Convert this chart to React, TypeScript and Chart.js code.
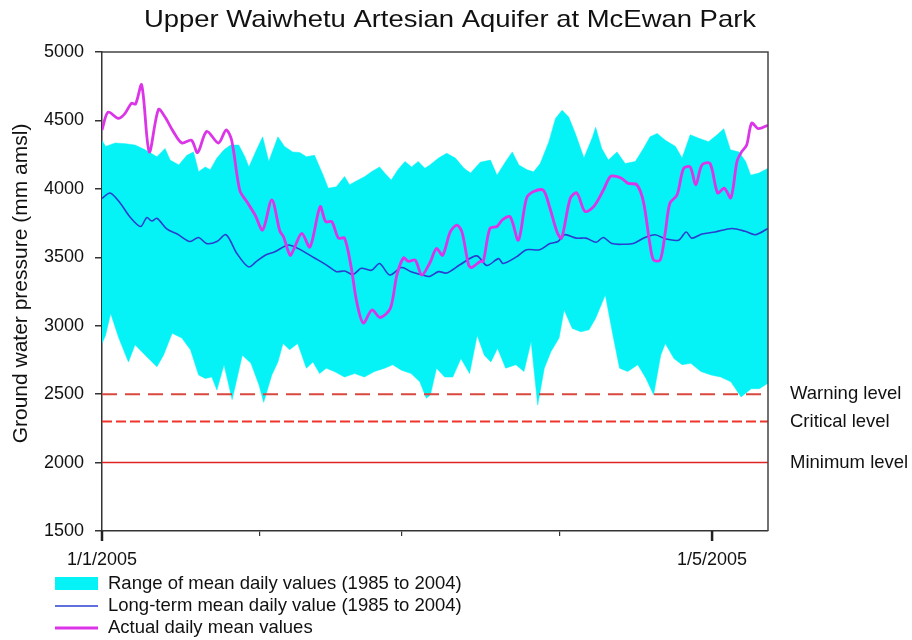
import React, { useEffect, useRef } from 'react';
import { Chart, registerables } from 'chart.js';

Chart.register(...registerables);

const FONT = "'Liberation Sans', Arial, Helvetica, sans-serif";

const chartTitle = 'Upper Waiwhetu Artesian Aquifer at McEwan Park';
const yAxisTitle = 'Ground water pressure (mm amsl)';
const xTickDays = [0, 31, 59, 90, 120];
const xTickLabels = ['1/1/2005', '', '', '', '1/5/2005'];
const xMajorDays = [0, 120];
const yTickValues = [1500, 2000, 2500, 3000, 3500, 4000, 4500, 5000];
const levelNames = ['Warning level', 'Critical level', 'Minimum level'];
const levelValues = [2500, 2300, 2000];
const legendLabels = [
  'Range of mean daily values (1985 to 2004)',
  'Long-term mean daily value (1985 to 2004)',
  'Actual daily mean values',
];

// Actual daily mean values (day since 1/1/2005, mm amsl)
const actualDays = [0, 1.2, 3.2, 4.5, 5.8, 6.6, 7.8, 9.3, 11.1, 12.4, 14, 15.7, 17.6, 18.8, 20.6, 22.9, 24.4, 25.5, 27.1, 28.5, 30.1, 31.6, 33.4, 35, 35.7, 37, 37.8, 39.3, 40.9, 42.9, 44, 45.2, 46.5, 47.7, 49, 50.1, 51.4, 53.1, 54.7, 56.7, 58, 59.3, 60.3, 61.6, 62.9, 64.5, 65.8, 67, 68.5, 69.8, 70.8, 72.1, 72.7, 74.4, 75, 76.3, 77.7, 78.8, 80.3, 81.9, 83.5, 84.9, 86.8, 88.1, 89.5, 90.4, 92.1, 93.4, 95, 96.7, 98.6, 100, 101.3, 102.3, 103.5, 105.2, 106.5, 107.8, 108.5, 109.8, 110.8, 111.7, 113.1, 114.4, 115.7, 116.8, 118, 119.6, 121.1, 122.4, 123.7, 124.9, 125.8, 126.8, 127.8, 129.1, 131];
const actualValues = [4430, 4560, 4515, 4550, 4625, 4620, 4760, 4270, 4580, 4525, 4420, 4335, 4355, 4265, 4420, 4335, 4430, 4355, 3990, 3905, 3810, 3700, 3920, 3690, 3650, 3515, 3565, 3675, 3575, 3870, 3760, 3760, 3640, 3640, 3430, 3175, 3020, 3115, 3060, 3125, 3370, 3495, 3470, 3480, 3370, 3460, 3565, 3515, 3685, 3735, 3685, 3445, 3425, 3470, 3470, 3710, 3725, 3775, 3795, 3625, 3930, 3980, 3990, 3860, 3685, 3640, 3930, 3970, 3835, 3870, 3990, 4090, 4090, 4075, 4040, 4030, 3905, 3590, 3480, 3480, 3685, 3895, 3955, 4150, 4160, 4030, 4175, 4185, 3970, 4005, 3935, 4200, 4270, 4320, 4480, 4440, 4465];

// Long-term mean daily value
const meanDays = [0, 1.6, 3.6, 5.5, 7.6, 8.8, 9.8, 10.8, 12.8, 14.8, 17.3, 19, 20.6, 22.6, 24.4, 26.5, 28.8, 30.4, 32.1, 34, 36.6, 38.5, 41.8, 44.1, 46.1, 47.7, 49.4, 51, 53, 54.6, 56.6, 58.9, 60.8, 63.1, 64.4, 66.2, 67.8, 70.4, 73.7, 75.7, 78, 78.9, 81.6, 83.5, 86.1, 88.1, 89.7, 91, 93.3, 95.2, 97.2, 98.6, 100.3, 102.6, 104.5, 106.8, 108.8, 110.8, 113.4, 114.9, 116, 118, 120.6, 123.9, 126.5, 128.5, 131];
const meanValues = [3930, 3970, 3895, 3795, 3725, 3790, 3765, 3785, 3705, 3670, 3615, 3645, 3600, 3615, 3665, 3530, 3430, 3470, 3515, 3540, 3590, 3565, 3495, 3445, 3395, 3400, 3375, 3420, 3405, 3455, 3370, 3425, 3395, 3370, 3360, 3395, 3385, 3445, 3510, 3440, 3490, 3455, 3505, 3555, 3555, 3600, 3615, 3665, 3640, 3640, 3610, 3645, 3600, 3595, 3600, 3645, 3665, 3635, 3625, 3685, 3640, 3670, 3685, 3710, 3690, 3665, 3710];

// Range of mean daily values: upper edge
const upperDays = [0, 0.7, 2.6, 4.6, 6.5, 8.5, 10.8, 12.4, 13.4, 15.1, 16.7, 18, 19, 20.3, 21.3, 22.6, 24, 25.3, 26.9, 28.1, 28.9, 30.2, 31.6, 32.8, 34.6, 35.9, 37.5, 38.9, 40.2, 41.8, 43.5, 44.5, 46.1, 47.7, 48.7, 50.4, 51.7, 53, 54.6, 55.6, 56.9, 58.2, 59.6, 60.9, 62.2, 63.5, 64.5, 66.2, 67.8, 69.5, 71.2, 72.5, 74.4, 76.4, 77.7, 79.4, 80.7, 82, 83.6, 84.9, 86.2, 87.9, 89.2, 90.5, 91.8, 93.2, 94.8, 96.5, 97.1, 98.3, 99.6, 101.3, 102.9, 104.9, 106.5, 107.8, 109.2, 110.8, 112.8, 114.1, 115.7, 117.4, 119.3, 121, 122.3, 123.6, 125.3, 126.6, 127.6, 129.2, 131];
const upperValues = [4355, 4310, 4335, 4330, 4320, 4285, 4235, 4295, 4210, 4175, 4245, 4270, 4125, 4160, 4140, 4225, 4285, 4320, 4320, 4235, 4160, 4270, 4380, 4200, 4380, 4310, 4270, 4265, 4235, 4245, 4100, 4005, 4015, 4090, 4030, 4065, 4090, 4125, 4160, 4115, 4065, 4140, 4200, 4160, 4200, 4150, 4175, 4225, 4260, 4225, 4150, 4115, 4195, 4210, 4100, 4200, 4270, 4175, 4140, 4125, 4185, 4345, 4515, 4575, 4525, 4395, 4225, 4380, 4450, 4295, 4210, 4270, 4185, 4200, 4295, 4380, 4405, 4355, 4310, 4225, 4395, 4370, 4345, 4395, 4440, 4285, 4270, 4200, 4100, 4115, 4150];

// Range of mean daily values: lower edge
const lowerDays = [0, 0.7, 1.7, 3.3, 5.2, 6.5, 8.5, 10.8, 12.1, 13.8, 15.7, 17.4, 19, 20.3, 21.6, 22.6, 24, 25.6, 27.6, 29.3, 30.9, 31.8, 33.4, 34.6, 35.6, 36.9, 38.5, 40.2, 41.5, 42.8, 44.1, 45.7, 47.7, 49.7, 51.6, 53.6, 55.6, 57.2, 58.9, 60.8, 62.5, 63.8, 64.6, 65.8, 67.4, 69, 70.6, 72.3, 73.8, 75.2, 76.5, 77.8, 79.4, 81.4, 83, 84.4, 85.7, 87, 88.3, 89.9, 90.9, 92.5, 94.2, 95.8, 97.1, 99, 100.5, 101.8, 103.4, 105.4, 107, 108.5, 109.9, 110.8, 112.5, 114.1, 115.8, 117.8, 119.8, 121.7, 123.7, 125.7, 127.7, 129.3, 131];
const lowerValues = [2870, 2930, 3090, 2910, 2735, 2860, 2785, 2700, 2785, 2945, 2910, 2825, 2640, 2615, 2625, 2530, 2715, 2460, 2785, 2725, 2565, 2440, 2640, 2735, 2870, 2825, 2870, 2690, 2735, 2650, 2690, 2665, 2625, 2650, 2625, 2665, 2690, 2715, 2675, 2650, 2590, 2470, 2495, 2690, 2625, 2625, 2760, 2650, 2930, 2785, 2735, 2835, 2690, 2715, 2665, 2885, 2420, 2690, 2810, 2910, 3115, 2980, 2955, 2970, 3055, 3225, 2930, 2690, 2665, 2715, 2615, 2495, 2785, 2870, 2760, 2715, 2725, 2665, 2640, 2625, 2590, 2480, 2540, 2540, 2580];

const X_MAX = 131;

const CYAN = '#05f2f6';
const BLUE = '#2a3fcf';
const MAGENTA = '#dc35e8';
const levelColors = ['#d9483e', '#f0342c', '#e02424'];
const levelDashes = [[15, 8], [10, 4], []];
const levelWidths = [2, 2, 1.5];

const pts = (xs: number[], ys: number[]) => xs.map((x, i) => ({ x, y: ys[i] }));

const decorPlugin = {
  id: 'decor',
  afterDraw(chart: any) {
    const ctx = chart.ctx as CanvasRenderingContext2D;
    const a = chart.chartArea;
    const yScale = chart.scales.y;
    const xScale = chart.scales.x;
    ctx.save();
    // frame top and right
    ctx.strokeStyle = '#444';
    ctx.lineWidth = 1.5;
    ctx.beginPath();
    ctx.moveTo(a.left, a.top);
    ctx.lineTo(a.right, a.top);
    ctx.lineTo(a.right, a.bottom);
    ctx.stroke();

    // longer major x ticks
    ctx.strokeStyle = '#222';
    ctx.lineWidth = 2.5;
    xMajorDays.forEach((d) => {
      const x = xScale.getPixelForValue(d);
      ctx.beginPath();
      ctx.moveTo(x, a.bottom);
      ctx.lineTo(x, a.bottom + 10);
      ctx.stroke();
    });

    ctx.fillStyle = '#111';
    // title
    ctx.font = `24px ${FONT}`;
    ctx.textBaseline = 'alphabetic';
    ctx.textAlign = 'left';
    const tw = ctx.measureText(chartTitle).width;
    const targetW = 612;
    const sx = targetW / tw;
    ctx.save();
    ctx.translate(450 - targetW / 2, 27);
    ctx.scale(sx, 1);
    ctx.fillText(chartTitle, 0, 0);
    ctx.restore();

    // y-axis title
    ctx.save();
    ctx.font = `21px ${FONT}`;
    ctx.translate(21, (a.top + a.bottom) / 2 - 8);
    ctx.rotate(-Math.PI / 2);
    ctx.textAlign = 'center';
    ctx.textBaseline = 'middle';
    ctx.fillText(yAxisTitle, 0, 0);
    ctx.restore();

    // level labels
    ctx.font = `18.5px ${FONT}`;
    ctx.textAlign = 'left';
    ctx.textBaseline = 'middle';
    levelNames.forEach((name, i) => {
      const y = yScale.getPixelForValue(levelValues[i]);
      ctx.fillText(name, 790, y);
    });

    // legend
    const rowY = [583.5, 606, 628];
    ctx.fillStyle = CYAN;
    ctx.fillRect(55, rowY[0] - 6.5, 43, 13);
    ctx.strokeStyle = BLUE;
    ctx.lineWidth = 1.5;
    ctx.beginPath();
    ctx.moveTo(55, rowY[1]);
    ctx.lineTo(98, rowY[1]);
    ctx.stroke();
    ctx.strokeStyle = MAGENTA;
    ctx.lineWidth = 3;
    ctx.beginPath();
    ctx.moveTo(55, rowY[2]);
    ctx.lineTo(98, rowY[2]);
    ctx.stroke();
    ctx.fillStyle = '#111';
    legendLabels.forEach((t, i) => ctx.fillText(t, 108, rowY[i]));
    ctx.restore();
  },
};

export default function App() {
  const ref = useRef<HTMLCanvasElement | null>(null);
  useEffect(() => {
    document.body.style.margin = '0';
    const canvas = ref.current;
    if (!canvas) return;
    const levelDatasets = levelValues.map((v, i) => ({
      label: levelNames[i],
      data: [{ x: 0, y: v }, { x: X_MAX, y: v }],
      borderColor: levelColors[i],
      borderWidth: levelWidths[i],
      borderDash: levelDashes[i],
      pointRadius: 0,
      fill: false,
      tension: 0,
    }));
    const chart = new Chart(canvas, {
      type: 'line',
      data: {
        datasets: [
          {
            label: legendLabels[2],
            data: pts(actualDays, actualValues),
            borderColor: MAGENTA,
            borderWidth: 2.8,
            pointRadius: 0,
            fill: false,
            tension: 0.3,
          },
          {
            label: legendLabels[1],
            data: pts(meanDays, meanValues),
            borderColor: BLUE,
            borderWidth: 1.6,
            pointRadius: 0,
            fill: false,
            tension: 0.3,
          },
          ...levelDatasets,
          {
            label: 'upper',
            data: pts(upperDays, upperValues),
            borderColor: CYAN,
            backgroundColor: CYAN,
            borderWidth: 0.5,
            pointRadius: 0,
            fill: '+1',
            tension: 0,
          },
          {
            label: 'lower',
            data: pts(lowerDays, lowerValues),
            borderColor: CYAN,
            backgroundColor: CYAN,
            borderWidth: 0.5,
            pointRadius: 0,
            fill: false,
            tension: 0,
          },
        ] as any,
      },
      options: {
        animation: false,
        responsive: false,
        maintainAspectRatio: false,
        devicePixelRatio: 1,
        layout: { padding: { left: 0, top: 52, right: 144, bottom: 0 } },
        plugins: {
          legend: { display: false },
          tooltip: { enabled: false },
          title: { display: false },
        },
        elements: { point: { radius: 0 } },
        scales: {
          x: {
            type: 'linear',
            min: 0,
            max: X_MAX,
            afterBuildTicks: (s: any) => {
              s.ticks = xTickDays.map((v) => ({ value: v }));
            },
            afterFit: (s: any) => {
              s.height = 109;
            },
            ticks: {
              autoSkip: false,
              maxRotation: 0,
              minRotation: 0,
              padding: 13,
              color: '#111',
              font: { family: FONT, size: 18 },
              callback: (v: any) => {
                const i = xTickDays.indexOf(Number(v));
                return i >= 0 ? xTickLabels[i] : '';
              },
            },
            grid: { drawOnChartArea: false, drawTicks: true, tickLength: 5, color: '#333', lineWidth: 1.2 },
            border: { display: true, color: '#333', width: 1.5 },
          },
          y: {
            type: 'linear',
            min: 1500,
            max: 5000,
            afterBuildTicks: (s: any) => {
              s.ticks = yTickValues.map((v) => ({ value: v }));
            },
            afterFit: (s: any) => {
              s.width = 102;
            },
            ticks: {
              padding: 11,
              color: '#111',
              font: { family: FONT, size: 18 },
              callback: (v: any) => String(v),
            },
            grid: { drawOnChartArea: false, drawTicks: true, tickLength: 7, color: '#333', lineWidth: 1.5 },
            border: { display: true, color: '#333', width: 1.5 },
          },
        },
      } as any,
      plugins: [decorPlugin],
    });
    return () => chart.destroy();
  }, []);
  return (
    <div style={{ width: 912, height: 640, position: 'relative', background: '#fff' }}>
      <canvas ref={ref} width={912} height={640} style={{ display: 'block', width: 912, height: 640 }} />
    </div>
  );
}
